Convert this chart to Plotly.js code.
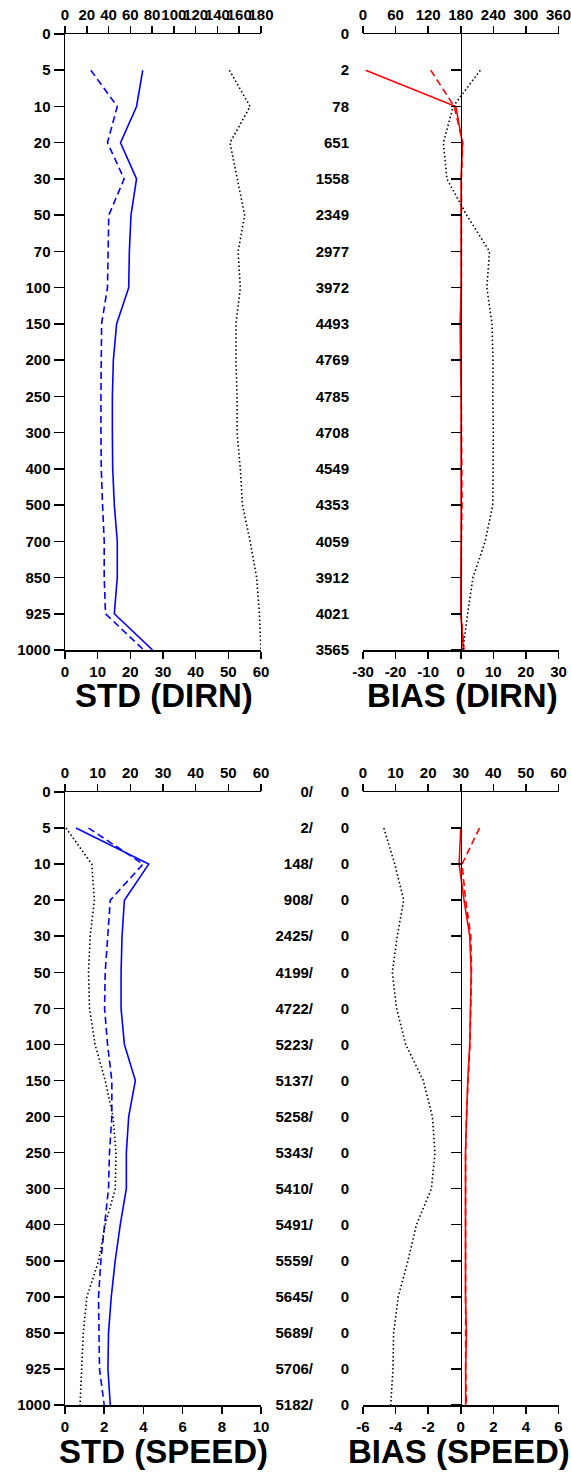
<!DOCTYPE html>
<html>
<head>
<meta charset="utf-8">
<script src="https://cdn.plot.ly/plotly-3.0.1.min.js"></script>
<style>html,body{margin:0;padding:0;background:#fff;}#chart{width:571px;height:1474px;}</style>
</head>
<body>
<div id="chart"></div>
<script>
// ---------- data ----------
const levels = ['0','5','10','20','30','50','70','100','150','200','250','300','400','500','700','850','925','1000'];

const countsDirn  = ['0','2','78','651','1558','2349','2977','3972','4493','4769','4785','4708','4549','4353','4059','3912','4021','3565'];
const countsSpeed = ['0/','2/','148/','908/','2425/','4199/','4722/','5223/','5137/','5258/','5343/','5410/','5491/','5559/','5645/','5689/','5706/','5182/'];
const rejectSpeed = ['0','0','0','0','0','0','0','0','0','0','0','0','0','0','0','0','0','0'];

const biasDirnTicks  = ['-30','-20','-10','0','10','20','30'];
const biasSpeedTicks = ['-6','-4','-2','0','2','4','6'];

const stdDirnSolid   = [null, 23.8, 21.9, 17.0, 21.9, 20.2, 19.7, 19.5, 15.8, 14.8, 14.5, 14.5, 14.6, 15.1, 16.0, 16.0, 15.1, 26.8];
const stdDirnDashed  = [null, 7.9, 16.0, 13.0, 18.1, 13.4, 13.1, 13.0, 11.2, 11.0, 11.0, 11.0, 11.1, 11.5, 12.0, 12.0, 12.4, 24.1];
const stdDirnDotted  = [null, 151, 170, 151.5, 158, 165, 159, 161, 157, 157, 158, 158, 161, 163, 170, 176, 178.5, 180];

const biasDirnSolid  = [null, -29.2, -1.5, 0.5, 0.1, 0.1, 0.2, 0.1, -0.2, 0.0, 0.1, 0.1, 0.1, 0.3, 0.1, 0.0, 0.0, 0.8];
const biasDirnDashed = [null, -9.2, -2.0, 0.6, 0.2, 0.2, 0.3, 0.2, 0.0, 0.1, 0.2, 0.2, 0.2, 0.4, 0.2, 0.1, 0.1, 1.0];
const biasDirnDotted = [null, 216, 166, 148, 154.5, 191, 233, 228, 237.5, 239.4, 239, 240, 240, 239, 225, 202.5, 192.6, 184];

const stdSpeedSolid  = [null, 0.56, 4.27, 3.03, 2.91, 2.86, 2.86, 3.03, 3.59, 3.25, 3.13, 3.13, 2.82, 2.56, 2.36, 2.22, 2.19, 2.31];
const stdSpeedDashed = [null, 1.2, 3.98, 2.31, 2.17, 2.05, 2.02, 2.17, 2.39, 2.39, 2.27, 2.22, 2.02, 1.83, 1.71, 1.74, 1.76, 2.0];
const stdSpeedDotted = [null, 0.3, 8.2, 9.0, 7.7, 7.2, 7.5, 9.2, 12.3, 14.7, 15.6, 15.4, 12.3, 10.3, 6.7, 5.6, 5.1, 4.6];

const biasSpeedSolid  = [null, 0.0, -0.1, 0.2, 0.55, 0.64, 0.6, 0.55, 0.43, 0.35, 0.29, 0.29, 0.29, 0.3, 0.29, 0.35, 0.3, 0.3];
const biasSpeedDashed = [null, 1.15, 0.08, 0.3, 0.62, 0.66, 0.62, 0.57, 0.45, 0.35, 0.3, 0.3, 0.3, 0.3, 0.3, 0.3, 0.3, 0.35];
const biasSpeedDotted = [null, 6.4, 9.75, 12.5, 10.5, 9.0, 10.3, 13.1, 18.5, 21.3, 22.1, 21.0, 16.4, 13.8, 10.8, 9.4, 9.2, 8.5];

const titles = ['STD (DIRN)', 'BIAS (DIRN)', 'STD (SPEED)', 'BIAS (SPEED)'];

// ---------- geometry ----------
const W = 571, H = 1474;
const px = v => v / W, py = v => 1 - v / H;
const xL = [px(65), px(261)];
const xR = [px(363), px(558.5)];
const yT = [py(650), py(34)];
const yB = [py(1405), py(792)];
const FONT = 'Liberation Sans, Arial, sans-serif';
const tickFont = {family: FONT, size: 15, color: '#000', weight: 'bold'};
const idx = levels.map((_, i) => i);
const yRange = [levels.length - 1, 0];

function line(x, y, xa, ya, color, dash, width) {
  return {x: x, y: y, xaxis: xa, yaxis: ya, type: 'scatter', mode: 'lines',
    line: {color: color, dash: dash, width: width || 1.6}, hoverinfo: 'skip', showlegend: false, connectgaps: false};
}
// invisible carrier so that decoration-only axes get drawn
function carrier(xa, ya) {
  return {x: idx.map(() => null), y: idx, xaxis: xa, yaxis: ya, type: 'scatter', mode: 'lines',
    line: {width: 0, color: 'rgba(0,0,0,0)'}, hoverinfo: 'skip', showlegend: false};
}
const DOT = '1.5px,2.5px', DASH = '7px,4px';

const traces = [
  line(stdDirnDotted, levels, 'x2', 'y', '#000', DOT, 1.6),
  line(stdDirnDashed, levels, 'x', 'y', '#0000ff', DASH),
  line(stdDirnSolid, levels, 'x', 'y', '#0000ff', 'solid'),
  carrier('x3', 'y3'),
  line(biasDirnDotted, levels, 'x4', 'y2', '#000', DOT, 1.6),
  line(biasDirnDashed, levels, 'x3', 'y2', '#ff0000', DASH),
  line(biasDirnSolid, levels, 'x3', 'y2', '#ff0000', 'solid'),
  line(stdSpeedDotted, levels, 'x6', 'y4', '#000', DOT, 1.6),
  line(stdSpeedDashed, levels, 'x5', 'y4', '#0000ff', DASH),
  line(stdSpeedSolid, levels, 'x5', 'y4', '#0000ff', 'solid'),
  carrier('x7', 'y6'),
  carrier('x7', 'y7'),
  line(biasSpeedDotted, levels, 'x8', 'y5', '#000', DOT, 1.6),
  line(biasSpeedDashed, levels, 'x7', 'y5', '#ff0000', DASH),
  line(biasSpeedSolid, levels, 'x7', 'y5', '#ff0000', 'solid')
];

function xax(domain, anchor, range, dtick, side, overlay, ticktext) {
  const a = {domain: domain, anchor: anchor, range: range, dtick: dtick, tick0: range[0],
    side: side, showline: true, linecolor: '#000', linewidth: 1.5, ticks: 'outside', ticklen: 7,
    tickwidth: 1.5, tickcolor: '#000', showgrid: false, zeroline: false, tickfont: tickFont,
    tickangle: 0, ticklabeloverflow: 'allow', fixedrange: true};
  if (ticktext) {
    a.tickmode = 'array';
    a.tickvals = ticktext.map(Number);
    a.ticktext = ticktext;
  }
  if (overlay) { a.overlaying = overlay; delete a.domain; }
  return a;
}
function ycat(domain, ticktext, opts) {
  return Object.assign({domain: domain, type: 'category', categoryorder: 'array', categoryarray: levels,
    range: yRange, tickmode: 'array', tickvals: levels, ticktext: ticktext, showgrid: false, zeroline: false,
    tickfont: tickFont, ticklabeloverflow: 'allow', fixedrange: true}, opts);
}
function ylin(domain, overlay, pos, opts) {
  return Object.assign({domain: domain, overlaying: overlay, anchor: 'free', position: pos, side: 'left',
    type: 'linear', range: yRange, tickmode: 'array', showgrid: false, zeroline: false, tickfont: tickFont,
    ticklabeloverflow: 'allow', fixedrange: true}, opts);
}
const centerLine = {showline: true, linecolor: '#000', linewidth: 1.5, ticks: 'outside', ticklen: 10,
  tickwidth: 1.5, tickcolor: '#000', showticklabels: false, tickvals: idx.slice(1)};

const layout = {
  width: W, height: H, margin: {l: 0, r: 0, t: 0, b: 0},
  paper_bgcolor: '#fff', plot_bgcolor: 'rgba(0,0,0,0)', showlegend: false,
  // top-left
  xaxis: xax(xL, 'y', [0, 60], 10, 'bottom'),
  xaxis2: xax(xL, 'y', [0, 180], 20, 'top', 'x'),
  yaxis: ycat(yT, levels, {anchor: 'x', showline: true, linecolor: '#000', linewidth: 1.5,
    ticks: 'outside', ticklen: 10, tickwidth: 1.5, tickcolor: '#000'}),
  // top-right
  xaxis3: xax(xR, 'y2', [-30, 30], 10, 'bottom', null, biasDirnTicks),
  xaxis4: xax(xR, 'y2', [0, 360], 60, 'top', 'x3'),
  yaxis2: ycat(yT, countsDirn, {anchor: 'free', position: px(349), showline: false, ticks: ''}),
  yaxis3: ylin(yT, 'y2', px(460.75), centerLine),
  // bottom-left
  xaxis5: xax(xL, 'y4', [0, 10], 2, 'bottom'),
  xaxis6: xax(xL, 'y4', [0, 60], 10, 'top', 'x5'),
  yaxis4: ycat(yB, levels, {anchor: 'x5', showline: true, linecolor: '#000', linewidth: 1.5,
    ticks: 'outside', ticklen: 10, tickwidth: 1.5, tickcolor: '#000'}),
  // bottom-right
  xaxis7: xax(xR, 'y5', [-6, 6], 2, 'bottom', null, biasSpeedTicks),
  xaxis8: xax(xR, 'y5', [0, 60], 10, 'top', 'x7'),
  yaxis5: ycat(yB, countsSpeed, {anchor: 'free', position: px(313), showline: false, ticks: ''}),
  yaxis6: ylin(yB, 'y5', px(349), {tickvals: idx, ticktext: rejectSpeed, showline: false, ticks: ''}),
  yaxis7: ylin(yB, 'y5', px(460.75), centerLine),
  annotations: [
    {text: titles[0], x: px(164), y: py(695)},
    {text: titles[1], x: px(462), y: py(695)},
    {text: titles[2], x: px(163), y: py(1451)},
    {text: titles[3], x: px(459), y: py(1451)}
  ].map(a => Object.assign(a, {xref: 'paper', yref: 'paper', xanchor: 'center', yanchor: 'middle',
    showarrow: false, font: {family: FONT, size: 33, color: '#000', weight: 'bold'}}))
};

Plotly.newPlot('chart', traces, layout, {staticPlot: true, displayModeBar: false});
</script>
</body>
</html>
